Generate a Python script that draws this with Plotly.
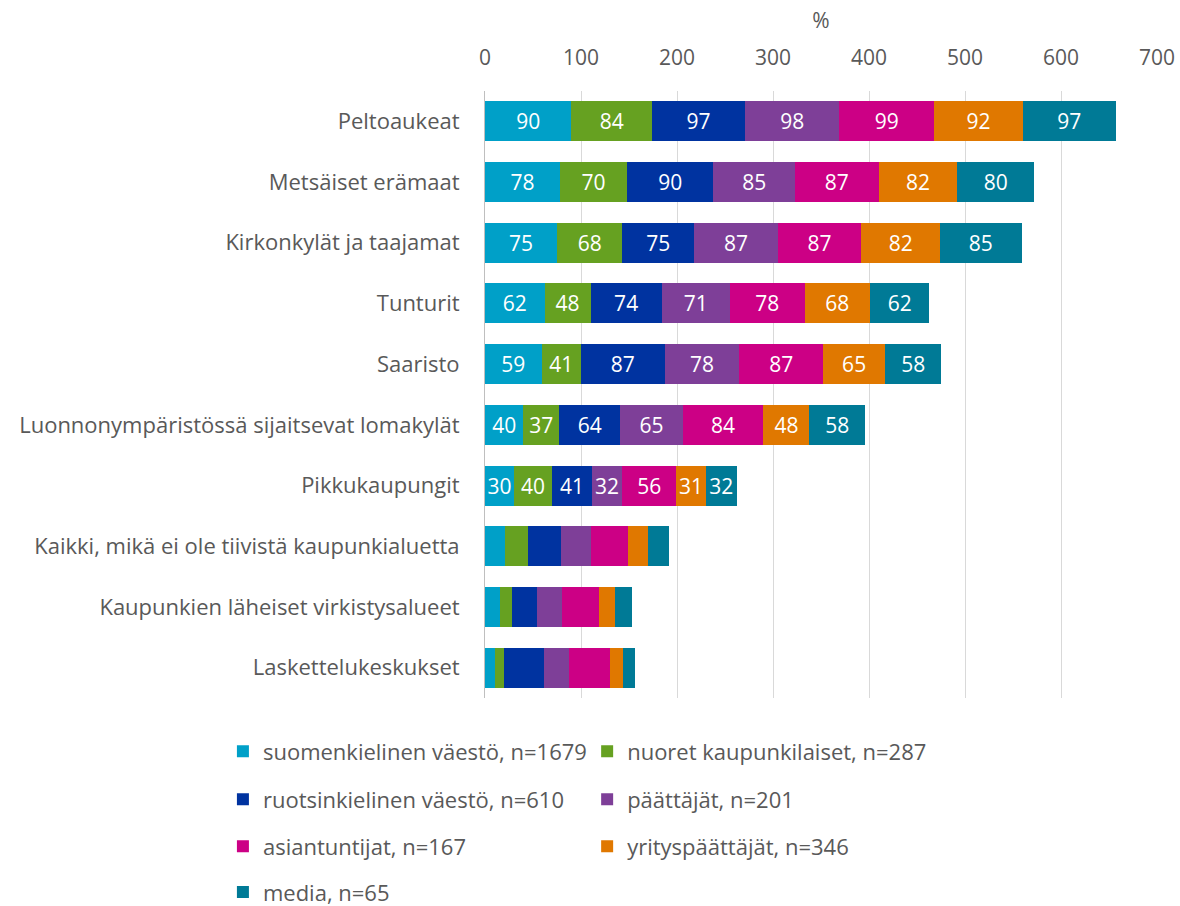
import plotly.graph_objects as go

categories = [
    "Peltoaukeat",
    "Metsäiset erämaat",
    "Kirkonkylät ja taajamat",
    "Tunturit",
    "Saaristo",
    "Luonnonympäristössä sijaitsevat lomakylät",
    "Pikkukaupungit",
    "Kaikki, mikä ei ole tiivistä kaupunkialuetta",
    "Kaupunkien läheiset virkistysalueet",
    "Laskettelukeskukset",
]

series_names = [
    "suomenkielinen väestö, n=1679",
    "nuoret kaupunkilaiset, n=287",
    "ruotsinkielinen väestö, n=610",
    "päättäjät, n=201",
    "asiantuntijat, n=167",
    "yrityspäättäjät, n=346",
    "media, n=65",
]

suomenkielinen = [90, 78, 75, 62, 59, 40, 30, 21, 16, 10]
nuoret = [84, 70, 68, 48, 41, 37, 40, 24, 12, 10]
ruotsinkielinen = [97, 90, 75, 74, 87, 64, 41, 34, 26, 41]
paattajat = [98, 85, 87, 71, 78, 65, 32, 31, 26, 26]
asiantuntijat = [99, 87, 87, 78, 87, 84, 56, 39, 39, 43]
yrityspaattajat = [92, 82, 82, 68, 65, 48, 31, 21, 16, 14]
media = [97, 80, 85, 62, 58, 58, 32, 22, 18, 12]

# number of categories that carry value labels (bottom three are unlabelled)
labelled = 7

colors = ["#00A0C8", "#66A121", "#0033A0", "#7E3F98", "#CC0085", "#E07800", "#007A96"]

all_series = [suomenkielinen, nuoret, ruotsinkielinen, paattajat,
              asiantuntijat, yrityspaattajat, media]

FONT = "Open Sans"
GREY = "#595959"

fig = go.Figure()

# legend positions (row, column) for each series
legend_pos = [(0, 0), (0, 1), (1, 0), (1, 1), (2, 0), (2, 1), (3, 0)]
col_x = [-0.390, 0.152]
row_y = [-0.0880, -0.1670, -0.2445, -0.3200]

for i, (name, vals, col) in enumerate(zip(series_names, all_series, colors)):
    texts = [str(v) if j < labelled else "" for j, v in enumerate(vals)]
    lg = "legend" if i == 0 else f"legend{i+1}"
    fig.add_trace(go.Bar(
        y=categories,
        x=vals,
        name=name,
        orientation="h",
        marker=dict(color=col, line=dict(width=0)),
        text=texts,
        textposition="inside",
        insidetextanchor="middle",
        textangle=0,
        constraintext="none",
        textfont=dict(color="white", size=21, family=FONT),
        hoverinfo="x+y+name",
        legend=lg,
    ))

layout_legends = {}
for i, (r, c) in enumerate(legend_pos):
    key = "legend" if i == 0 else f"legend{i+1}"
    layout_legends[key] = dict(
        x=col_x[c], y=row_y[r], xanchor="left", yanchor="middle",
        orientation="h", font=dict(size=22, color=GREY, family=FONT),
        bgcolor="rgba(0,0,0,0)", borderwidth=0,
    )

fig.update_layout(
    barmode="stack",
    bargap=0.34,
    width=1180,
    height=906,
    margin=dict(l=485, r=23, t=91, b=208, autoexpand=False),
    paper_bgcolor="white",
    plot_bgcolor="white",
    font=dict(family=FONT, color=GREY),
    showlegend=True,
    **layout_legends,
)

fig.update_xaxes(
    side="top",
    range=[0, 700],
    dtick=100,
    showgrid=True,
    gridcolor="#D9D9D9",
    gridwidth=1,
    zeroline=False,
    showline=False,
    ticks="",
    ticklabelstandoff=21,
    automargin=False,
    tickfont=dict(size=21, color=GREY, family=FONT),
    title=dict(text="%", font=dict(size=21, color=GREY, family=FONT), standoff=8),
    fixedrange=True,
)

fig.update_yaxes(
    categoryorder="array",
    categoryarray=categories[::-1],
    autorange=True,
    showline=True,
    linecolor="#BFBFBF",
    linewidth=1,
    ticks="",
    ticklabelstandoff=20,
    automargin=False,
    tickfont=dict(size=22, color=GREY, family=FONT),
    showgrid=False,
    fixedrange=True,
)

# remove the browser's default 8px body margin so the 1180x906 figure fits the window
fig.write_html(
    "out.html",
    config={"displayModeBar": False},
    post_script="document.body.style.margin='0';document.body.style.overflow='hidden';",
)
